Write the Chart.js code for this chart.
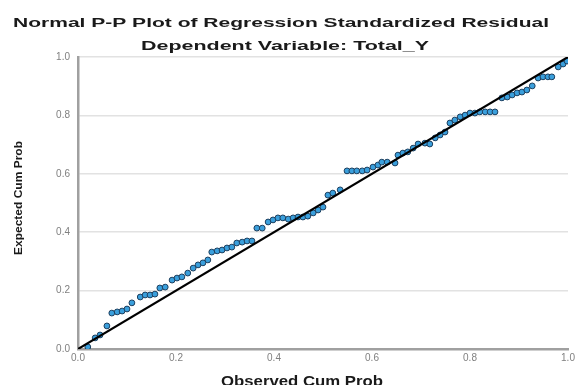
<!DOCTYPE html>
<html>
<head>
    <title>Normal P-P Plot of Regression Standardized Residual</title>
    <script src="https://cdn.jsdelivr.net/npm/chart.js"></script>
    <style>
        html, body {
            margin: 0;
            padding: 0;
            background-color: #fff;
        }

        #chartContainer {
            position: relative;
            width: 579px;
            height: 385px;
        }
    </style>
</head>
<body>
    <div id="chartContainer">
        <canvas id="ppChart"></canvas>
    </div>

    <script>
        var chartTitle = "Normal P-P Plot of Regression Standardized Residual";
        var chartSubtitle = "Dependent Variable: Total_Y";
        var xAxisTitle = "Observed Cum Prob";
        var yAxisTitle = "Expected Cum Prob";
        var tickLabels = ["0.0", "0.2", "0.4", "0.6", "0.8", "1.0"];

        // observed cumulative probability (x) and expected cumulative probability (y)
        var observedCum = [
            0.020, 0.035, 0.045, 0.059, 0.069, 0.080, 0.090, 0.100, 0.110, 0.127,
            0.137, 0.147, 0.157, 0.167, 0.178, 0.192, 0.202, 0.212, 0.224, 0.235,
            0.245, 0.255, 0.265, 0.273, 0.284, 0.294, 0.304, 0.314, 0.324, 0.335,
            0.345, 0.355, 0.365, 0.376, 0.388, 0.398, 0.408, 0.418, 0.429, 0.439,
            0.449, 0.459, 0.469, 0.480, 0.490, 0.500, 0.510, 0.520, 0.535, 0.549,
            0.559, 0.569, 0.580, 0.590, 0.602, 0.612, 0.620, 0.631, 0.647, 0.653,
            0.663, 0.673, 0.684, 0.694, 0.708, 0.718, 0.729, 0.739, 0.749, 0.759,
            0.769, 0.780, 0.790, 0.800, 0.810, 0.820, 0.831, 0.841, 0.851, 0.865,
            0.876, 0.886, 0.896, 0.906, 0.916, 0.927, 0.939, 0.949, 0.959, 0.967,
            0.980, 0.990, 0.998
        ];
        var expectedCum = [
            0.007, 0.038, 0.048, 0.079, 0.123, 0.127, 0.130, 0.137, 0.158, 0.178,
            0.185, 0.185, 0.188, 0.209, 0.212, 0.236, 0.243, 0.247, 0.260, 0.277,
            0.288, 0.295, 0.305, 0.332, 0.336, 0.339, 0.346, 0.349, 0.363, 0.366,
            0.370, 0.370, 0.414, 0.414, 0.435, 0.442, 0.449, 0.449, 0.445, 0.449,
            0.452, 0.452, 0.455, 0.466, 0.476, 0.486, 0.527, 0.534, 0.545, 0.610,
            0.610, 0.610, 0.610, 0.613, 0.623, 0.630, 0.640, 0.640, 0.637, 0.664,
            0.671, 0.675, 0.688, 0.702, 0.705, 0.702, 0.723, 0.733, 0.743, 0.774,
            0.784, 0.795, 0.801, 0.808, 0.808, 0.812, 0.812, 0.812, 0.812, 0.860,
            0.863, 0.870, 0.877, 0.880, 0.887, 0.901, 0.928, 0.932, 0.932, 0.932,
            0.966, 0.976, 0.986
        ];
        var refLine = [0, 1];

        var points = observedCum.map(function(x, i) {
            return { x: x, y: expectedCum[i] };
        });

        // draws text squeezed or stretched horizontally to a given width
        function drawStretched(ctx, text, cx, y, font, targetWidth) {
            ctx.save();
            ctx.font = font;
            var w = ctx.measureText(text).width;
            ctx.translate(cx, y);
            ctx.scale(targetWidth / w, 1);
            ctx.textAlign = "center";
            ctx.textBaseline = "middle";
            ctx.fillText(text, 0, 0);
            ctx.restore();
        }

        var textPlugin = {
            id: "spssText",
            afterDraw: function(chart) {
                var ctx = chart.ctx;
                ctx.fillStyle = "#1a1a1a";
                drawStretched(ctx, chartTitle, 281, 23, "bold 13px 'Liberation Sans', Arial, sans-serif", 536);
                drawStretched(ctx, chartSubtitle, 285, 46, "bold 13px 'Liberation Sans', Arial, sans-serif", 288);
                drawStretched(ctx, xAxisTitle, 302, 382, "bold 15px 'Liberation Sans', Arial, sans-serif", 162);

                ctx.save();
                ctx.translate(19, 198);
                ctx.rotate(-Math.PI / 2);
                ctx.font = "bold 13px 'Liberation Sans Narrow', 'Liberation Sans', Arial, sans-serif";
                var w = ctx.measureText(yAxisTitle).width;
                ctx.scale(114 / w, 0.8);
                ctx.textAlign = "center";
                ctx.textBaseline = "middle";
                ctx.fillText(yAxisTitle, 0, 0);
                ctx.restore();
            }
        };

        var tickFont = { family: "'Liberation Sans', Arial, sans-serif", size: 10 };

        new Chart(document.getElementById("ppChart"), {
            type: "scatter",
            data: {
                datasets: [{
                    label: "Residuals",
                    data: points,
                    backgroundColor: "#3a9fdc",
                    borderColor: "#1d3f5e",
                    borderWidth: 1,
                    pointRadius: 2.9,
                    order: 2
                }, {
                    label: "Reference",
                    type: "line",
                    data: refLine.map(function(v) { return { x: v, y: v }; }),
                    borderColor: "#000",
                    borderWidth: 2.2,
                    pointRadius: 0,
                    fill: false,
                    order: 1
                }]
            },
            options: {
                responsive: true,
                maintainAspectRatio: false,
                animation: false,
                layout: {
                    padding: { top: 57, right: 11, left: 0, bottom: 0 }
                },
                plugins: {
                    legend: { display: false },
                    tooltip: { enabled: false }
                },
                scales: {
                    x: {
                        type: "linear",
                        min: 0,
                        max: 1,
                        afterFit: function(scale) { scale.height = 36; },
                        afterBuildTicks: function(scale) {
                            scale.ticks = tickLabels.map(function(t) { return { value: parseFloat(t) }; });
                        },
                        ticks: {
                            color: "#808080",
                            font: tickFont,
                            padding: 3,
                            maxRotation: 0,
                            callback: function(value, index) { return tickLabels[index]; }
                        },
                        grid: { color: "rgba(0,0,0,0)", drawTicks: false },
                        border: { color: "#a0a0a0", width: 2.5 }
                    },
                    y: {
                        type: "linear",
                        min: 0,
                        max: 1,
                        afterFit: function(scale) { scale.width = 78; },
                        afterBuildTicks: function(scale) {
                            scale.ticks = tickLabels.map(function(t) { return { value: parseFloat(t) }; });
                        },
                        ticks: {
                            color: "#808080",
                            font: tickFont,
                            padding: 8,
                            callback: function(value, index) { return tickLabels[index]; }
                        },
                        grid: { color: "#e2e2e2", lineWidth: 1.5, drawTicks: false },
                        border: { color: "#a0a0a0", width: 2.5 }
                    }
                }
            },
            plugins: [textPlugin]
        });
    </script>
</body>
</html>
